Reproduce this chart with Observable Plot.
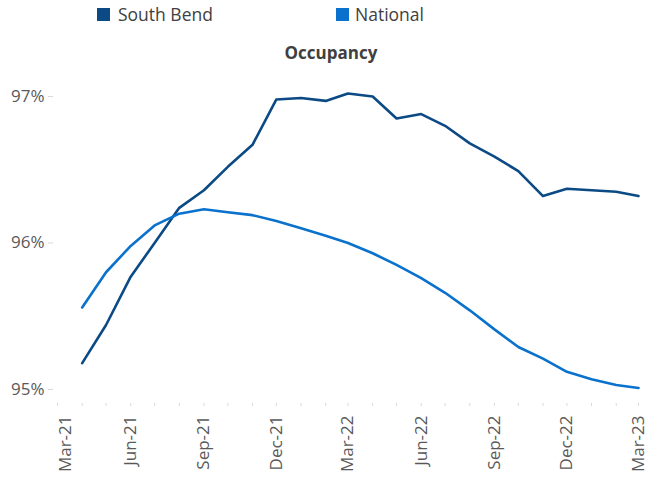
<!DOCTYPE html>
<html><head><meta charset="utf-8">
<script src="https://cdn.jsdelivr.net/npm/d3@7"></script>
<script src="https://cdn.jsdelivr.net/npm/@observablehq/plot@0.6"></script>
<style>
body{margin:0;background:#fff;font-family:"Open Sans",sans-serif;width:662px;height:478px;position:relative;overflow:hidden}
.sw{position:absolute;top:8px;width:13px;height:13px}
.lt{position:absolute;top:2px;font-size:17.5px;color:#404040;line-height:24px}
#title{position:absolute;top:41px;left:0;width:662px;text-align:center;font-weight:bold;font-size:17px;color:#404040}
#chart{position:absolute;top:72px;left:0}
</style></head><body>
<div class="sw" style="left:97px;background:#0b4a84"></div><div class="lt" style="left:118px">South Bend</div>
<div class="sw" style="left:336px;background:#0a72cc"></div><div class="lt" style="left:355px">National</div>
<div id="title">Occupancy</div>
<div id="chart"></div>
<script>
const months = ["2021-04","2021-05","2021-06","2021-07","2021-08","2021-09","2021-10","2021-11","2021-12",
  "2022-01","2022-02","2022-03","2022-04","2022-05","2022-06","2022-07","2022-08","2022-09","2022-10","2022-11","2022-12",
  "2023-01","2023-02","2023-03"];
const southBend = [95.18,95.44,95.77,96.00,96.24,96.36,96.52,96.67,96.98,96.99,96.97,97.02,97.00,96.85,96.88,96.80,96.68,96.59,96.49,96.32,96.37,96.36,96.35,96.32];
const national = [95.56,95.80,95.98,96.12,96.20,96.23,96.21,96.19,96.15,96.10,96.05,96.00,95.93,95.85,95.76,95.66,95.54,95.41,95.29,95.21,95.12,95.07,95.03,95.01];
const seriesNames = ["South Bend","National"];
const colors = ["#0b4a84","#0a72cc"];
const yTicks = [95,96,97];
const xTickLabels = ["2021-03","2021-06","2021-09","2021-12","2022-03","2022-06","2022-09","2022-12","2023-03"];
const allMonths = ["2021-03",...months];

const parse = d3.utcParse("%Y-%m");
const data = [];
months.forEach((m,i)=>{
  data.push({date:parse(m),value:southBend[i],series:seriesNames[0]});
  data.push({date:parse(m),value:national[i],series:seriesNames[1]});
});
const fmt = d3.utcFormat("%b-%y");
const labelOpts = {tickSize:0, tickPadding:12, tickRotate:-90, tickFormat:fmt, fontSize:17, fill:"#595959", label:null};

const chart = Plot.plot({
  width:662, height:406,
  marginLeft:53, marginRight:24, marginTop:24, marginBottom:75,
  style:{fontFamily:"Open Sans, sans-serif", background:"#fff", overflow:"visible"},
  x:{type:"utc", domain:[parse("2021-03"),parse("2023-03")], range:[57,638]},
  y:{domain:[94.904,97], range:[331,24]},
  color:{domain:seriesNames, range:colors},
  marks:[
    Plot.axisY({ticks:yTicks, tickSize:5, tickPadding:4, tickFormat:d=>d+"%", fontSize:17, color:"#595959", stroke:"#d9d9d9", label:null}),
    Plot.axisX({ticks:allMonths.map(parse), tickSize:3, tickFormat:()=>"", stroke:"#d9d9d9", label:null}),
    Plot.axisX({...labelOpts, ticks:xTickLabels.slice(0,1).map(parse), dx:8}),
    Plot.axisX({...labelOpts, ticks:xTickLabels.slice(1).map(parse)}),
    Plot.line(data,{x:"date",y:"value",stroke:"series",strokeWidth:2.6,curve:"linear"})
  ]
});
document.getElementById("chart").appendChild(chart);
</script>
</body></html>
